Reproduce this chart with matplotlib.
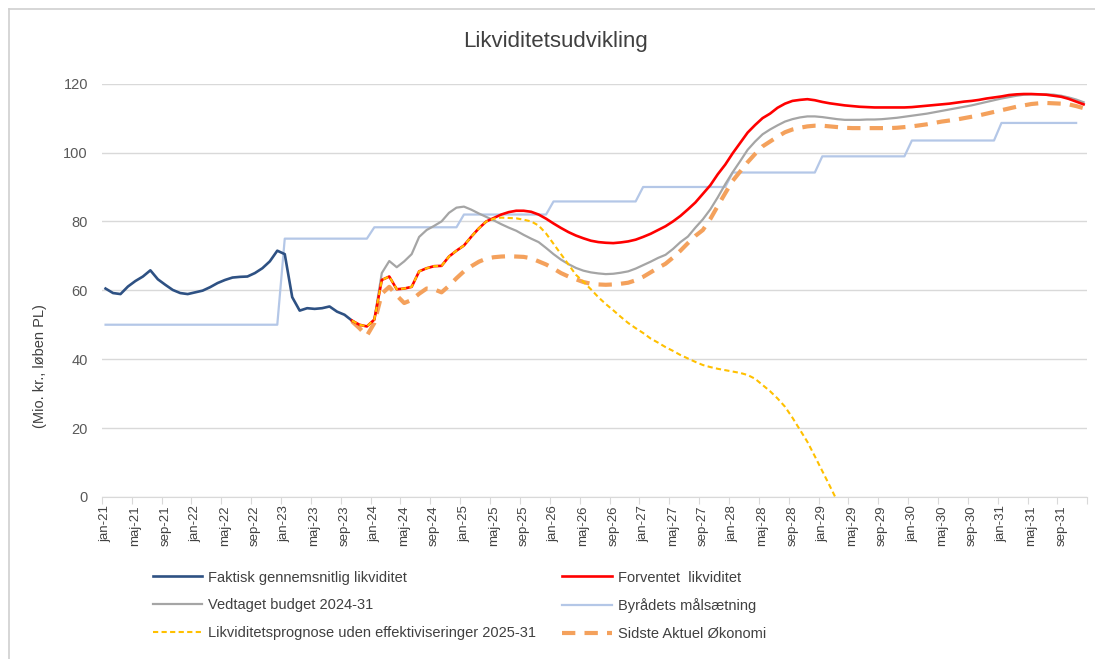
import numpy as np
import matplotlib
matplotlib.use("Agg")
import matplotlib.pyplot as plt
from matplotlib.lines import Line2D

plt.rcParams['font.family'] = ['Liberation Sans', 'DejaVu Sans']

# Months jan-21 .. dec-31
month_names = ['jan', 'feb', 'mar', 'apr', 'maj', 'jun', 'jul', 'aug', 'sep', 'okt', 'nov', 'dec']
years = list(range(21, 32))
months = [f"{m}-{y}" for y in years for m in month_names]

# Faktisk gennemsnitlig likviditet (jan-21 .. okt-23)
faktisk = [60.5, 59.2, 58.9, 61.1, 62.7, 64.0, 65.8, 63.2, 61.6, 60.1, 59.2, 58.9,
           59.4, 59.9, 60.9, 62.1, 63.0, 63.7, 63.9, 64.0, 65.0, 66.4, 68.4, 71.5,
           70.5, 58.0, 54.1, 54.8, 54.6, 54.8, 55.3, 53.8, 52.9, 51.2]
faktisk_start = 0

# Forventet likviditet (okt-23 .. dec-31)
forventet = [51.2, 50.0, 49.5, 51.5, 63.0, 64.0, 60.3, 60.5, 61.0, 65.5, 66.4, 67.0,
             67.1, 69.8, 71.5, 73.0, 75.6, 78.0, 80.0, 81.0, 82.0, 82.7, 83.1, 83.1,
             82.8, 82.0, 80.8, 79.4, 78.1, 76.9, 75.9, 75.1, 74.4, 74.0, 73.8, 73.7,
             73.9, 74.2, 74.7, 75.5, 76.4, 77.5, 78.6, 80.0, 81.6, 83.5, 85.5, 88.0,
             90.5, 93.7, 96.5, 99.8, 102.8, 105.8, 108.0, 110.0, 111.3, 113.0, 114.2, 115.0,
             115.3, 115.5, 115.2, 114.7, 114.3, 114.0, 113.7, 113.5, 113.3, 113.2, 113.1, 113.1,
             113.1, 113.1, 113.1, 113.2, 113.4, 113.6, 113.8, 114.0, 114.2, 114.5, 114.8, 115.0,
             115.3, 115.7, 116.0, 116.3, 116.7, 116.9, 117.0, 117.0, 116.9, 116.8, 116.5, 116.2,
             115.6, 114.8, 114.0]
forventet_start = 33

# Vedtaget budget 2024-31 (jan-24 .. dec-31)
vedtaget = [51.5, 65.0, 68.5, 66.7, 68.4, 70.5, 75.5, 77.5, 78.7, 80.0, 82.5, 84.0,
            84.3, 83.4, 82.3, 81.3, 80.3, 79.2, 78.2, 77.3, 76.1, 75.0, 74.0, 72.3,
            70.5, 68.9, 67.6, 66.5, 65.7, 65.2, 64.9, 64.7, 64.8, 65.1, 65.5, 66.3,
            67.3, 68.3, 69.4, 70.3, 72.0, 74.0, 75.6, 78.2, 80.6, 83.5, 87.0, 90.8,
            94.3, 97.5, 100.8, 103.2, 105.3, 106.7, 107.9, 109.0, 109.7, 110.2, 110.5, 110.5,
            110.3, 110.0, 109.7, 109.5, 109.5, 109.5, 109.6, 109.6, 109.7, 109.9, 110.1, 110.4,
            110.7, 111.0, 111.3, 111.7, 112.1, 112.5, 112.9, 113.3, 113.7, 114.2, 114.7, 115.2,
            115.7, 116.1, 116.5, 116.8, 116.9, 116.9, 116.9, 116.8, 116.5, 116.0, 115.4, 114.6]
vedtaget_start = 36

# Byrådets målsætning: level per step and number of months at that level
maal_levels = [50, 75, 78.3, 82, 85.8, 90, 94.2, 98.9, 103.5, 108.6]
maal_months = [24, 12, 12, 12, 12, 12, 12, 12, 12, 11]
maal_start = 0

# Likviditetsprognose uden effektiviseringer 2025-31 (okt-23 .. maj-29)
prognose = [51.2, 50.0, 49.5, 51.5, 63.0, 64.0, 60.3, 60.5, 61.0, 65.5, 66.4, 67.0,
            67.1, 69.8, 71.5, 73.0, 75.6, 78.0, 80.0, 80.8, 81.1, 81.0, 80.9, 80.5,
            80.0, 78.8, 76.5, 73.5, 70.5, 67.5, 64.5, 62.5, 60.3, 58.0, 56.0, 54.2,
            52.3, 50.5, 49.0, 47.6, 46.0, 44.8, 43.5, 42.4, 41.2, 40.2, 39.2, 38.3,
            37.7, 37.2, 36.8, 36.4, 36.0, 35.4, 34.3, 32.5, 30.7, 28.6, 26.2, 23.0,
            19.5, 16.0, 11.8, 7.5, 3.2, -1.2]
prognose_start = 33

# Sidste Aktuel Økonomi (okt-23 .. dec-31)
sidste = [51.0, 49.0, 46.8, 50.5, 59.0, 61.0, 58.5, 56.3, 57.2, 59.0, 60.5, 60.3,
          59.4, 61.3, 63.5, 65.5, 67.0, 68.3, 69.2, 69.6, 69.8, 69.9, 69.8, 69.7,
          69.3, 68.4, 67.5, 66.3, 65.0, 64.0, 63.2, 62.4, 61.9, 61.7, 61.6, 61.7,
          61.9, 62.2, 62.9, 63.9, 65.2, 66.5, 67.7, 69.5, 71.5, 73.7, 75.8, 77.5,
          80.7, 84.5, 88.2, 91.8, 94.5, 97.2, 99.6, 101.8, 103.2, 104.6, 105.9, 106.7,
          107.2, 107.6, 107.8, 107.8, 107.6, 107.4, 107.2, 107.1, 107.1, 107.1, 107.1, 107.1,
          107.1, 107.2, 107.4, 107.6, 107.9, 108.2, 108.6, 109.0, 109.3, 109.6, 110.0, 110.4,
          110.8, 111.3, 111.8, 112.3, 112.8, 113.3, 113.7, 114.1, 114.3, 114.4, 114.3, 114.2,
          114.0, 113.5, 112.9, 112.3]
sidste_start = 33

maal = np.repeat(maal_levels, maal_months)


def xs(start, values):
    return np.arange(start, start + len(values))


fig = plt.figure(figsize=(10.95, 6.59), dpi=100)
ax = fig.add_axes([0.093, 0.246, 0.9, 0.627])

ax.plot(xs(maal_start, maal), maal, color='#B4C7E7', lw=1.6, label='Byrådets målsætning', zorder=2)
ax.plot(xs(faktisk_start, faktisk), faktisk, color='#2E5183', lw=1.9,
        label='Faktisk gennemsnitlig likviditet', zorder=4)
ax.plot(xs(vedtaget_start, vedtaget), vedtaget, color='#A5A5A5', lw=1.6,
        label='Vedtaget budget 2024-31', zorder=3)
ax.plot(xs(forventet_start, forventet), forventet, color='#FF0000', lw=1.9,
        label='Forventet  likviditet', zorder=4)
ax.plot(xs(sidste_start, sidste), sidste, color='#F4A15C', lw=3.0, dashes=(3.2, 2.2),
        label='Sidste Aktuel Økonomi', zorder=3)
ax.plot(xs(prognose_start, prognose), prognose, color='#FFC000', lw=1.5, dashes=(2.5, 1.6),
        label='Likviditetsprognose uden effektiviseringer 2025-31', zorder=5)

ax.set_xlim(-0.5, len(months) - 0.5)
ax.set_ylim(0, 120)
ax.set_yticks(range(0, 121, 20))
ax.yaxis.grid(True, color='#D9D9D9', lw=1.0)
ax.set_axisbelow(True)

# tick marks between categories, labels on every 4th month
ax.set_xticks(np.arange(-0.5, len(months), 4))
ax.set_xticklabels([])
ax.set_xticks(np.arange(0, len(months), 4), minor=True)
ax.set_xticklabels(months[::4], minor=True, rotation=90, fontsize=9.5, color='#404040')
ax.tick_params(axis='x', which='major', length=5, color='#D9D9D9')
ax.tick_params(axis='x', which='minor', length=0, pad=6)
ax.tick_params(axis='y', length=0, labelsize=10.5, labelcolor='#595959', pad=10)

for s in ['top', 'right', 'left']:
    ax.spines[s].set_visible(False)
ax.spines['bottom'].set_color('#D9D9D9')

ax.set_ylabel('(Mio. kr., løben PL)', fontsize=10.5, color='#404040')
ax.yaxis.set_label_coords(-0.056, 0.317)
fig.text(0.507, 0.937, 'Likviditetsudvikling', ha='center', va='center', fontsize=16, color='#404040')

handles, labels = ax.get_legend_handles_labels()
order = ['Faktisk gennemsnitlig likviditet', 'Vedtaget budget 2024-31',
         'Likviditetsprognose uden effektiviseringer 2025-31',
         'Forventet  likviditet', 'Byrådets målsætning', 'Sidste Aktuel Økonomi']
hmap = dict(zip(labels, handles))
leg = fig.legend([hmap[k] for k in order], order, ncol=2, frameon=False,
                 loc='upper left', bbox_to_anchor=(0.134, 0.143), fontsize=10.5,
                 handlelength=3.4, handletextpad=0.4, columnspacing=1.8, labelspacing=0.95,
                 borderaxespad=0)
for t in leg.get_texts():
    t.set_color('#404040')

# chart frame
fig.add_artist(Line2D([0.008, 0.008], [0, 0.986], transform=fig.transFigure, color='#D0D0D0', lw=1.2))
fig.add_artist(Line2D([0.008, 1], [0.986, 0.986], transform=fig.transFigure, color='#D0D0D0', lw=1.2))

fig.savefig('out.png', dpi=100)
